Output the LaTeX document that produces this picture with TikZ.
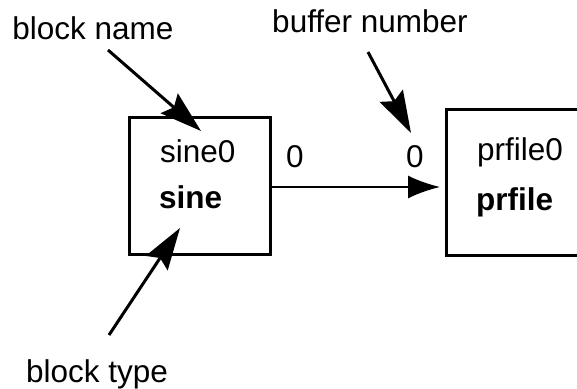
\documentclass[tikz,border=0pt]{standalone}
\usepackage{fontspec}
\setmainfont{Liberation Sans}
\usetikzlibrary{arrows.meta}
\begin{document}
\begin{tikzpicture}[x=1pt,y=-1pt,
  lbl/.style={inner sep=0pt, font=\fontsize{31.5}{36}\selectfont},
  boldlbl/.style={lbl, font=\fontsize{31.5}{36}\selectfont\bfseries},
  blockbox/.style={draw, line width=2.6pt, inner sep=0pt, anchor=north west},
  conn/.style={line width=2pt, -{Latex[length=32pt,width=23pt]}},
  note/.style={line width=3pt, -{Stealth[length=42pt,width=26pt,inset=6pt]}}]
\useasboundingbox (0,0) rectangle (577,388);
% boxes
\node[blockbox, minimum width=141pt, minimum height=137pt] (sine) at (128,116) {};
\node[blockbox, minimum width=160pt, minimum height=146pt] (prfile) at (445,108) {};
% box texts
\node[lbl, anchor=base west] (sinename) at (160,162) {sine0};
\node[boldlbl, anchor=base west] (sinetype) at (159,208) {sine};
\node[lbl, anchor=base west] (prname) at (477,160) {prfile0};
\node[boldlbl, anchor=base west] (prtype) at (476,210) {prfile};
% buffer numbers
\node[lbl, anchor=base] (out0) at (295,167) {0};
\node[lbl, anchor=base] (in0) at (415,167) {0};
% connector
\coordinate (cy) at (0,187);
\draw[conn, shorten >=5pt] (sine.east |- cy) -- (prfile.west |- cy);
% annotations
\node[lbl, anchor=base] (bname) at (93,39) {block name};
\node[lbl, anchor=base] (bufnum) at (370,32) {buffer number};
\node[lbl, anchor=base] (btype) at (97,382) {block type};
\coordinate (bnS) at (108,50);
\coordinate (bnT) at (201,131);
\coordinate (bufS) at (368,52);
\coordinate (bufT) at (411,133);
\coordinate (btS) at (109,335);
\coordinate (btT) at (180,228);
\draw[note] (bnS) -- (bnT);
\draw[note] (bufS) -- (bufT);
\draw[note] (btS) -- (btT);
\end{tikzpicture}
\end{document}
